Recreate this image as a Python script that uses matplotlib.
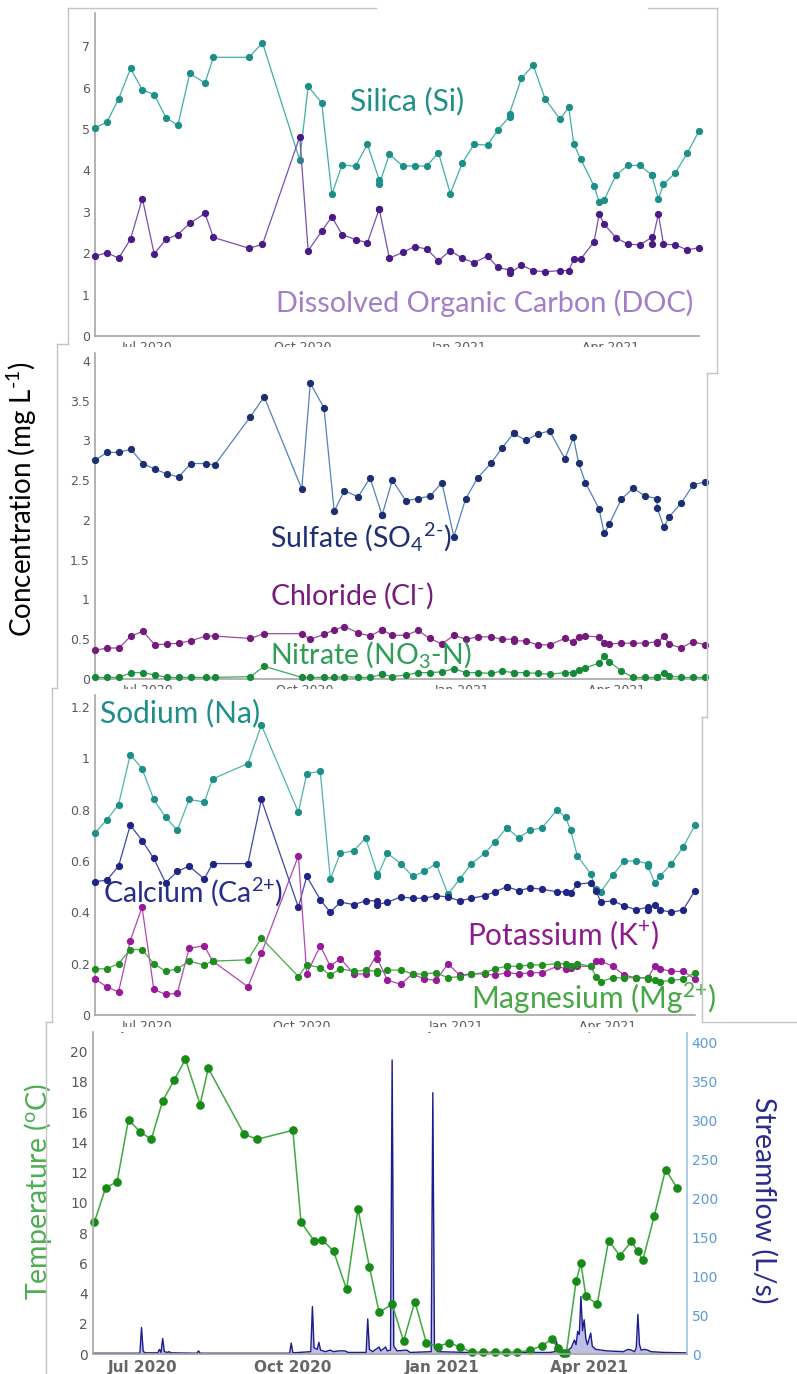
import matplotlib
matplotlib.use('Agg')
import matplotlib.pyplot as plt
import matplotlib.dates as mdates
from matplotlib.lines import Line2D
from matplotlib.patches import Rectangle
import pandas as pd

plt.rcParams['mathtext.fontset'] = 'custom'
plt.rcParams['mathtext.rm'] = 'Lato'
plt.rcParams['mathtext.it'] = 'Lato:italic'
plt.rcParams['mathtext.bf'] = 'Lato:bold'

# ---- data ----
chem_dates = ['2020-05-31', '2020-06-07', '2020-06-14', '2020-06-21', '2020-06-28', '2020-07-05',
              '2020-07-12', '2020-07-19', '2020-07-26', '2020-08-04', '2020-08-09', '2020-08-30',
              '2020-09-07', '2020-09-29', '2020-10-04', '2020-10-12', '2020-10-18', '2020-10-24',
              '2020-11-01', '2020-11-08', '2020-11-15', '2020-11-15', '2020-11-21', '2020-11-29',
              '2020-12-06', '2020-12-13', '2020-12-20', '2020-12-27', '2021-01-03', '2021-01-10',
              '2021-01-18', '2021-01-24', '2021-01-31', '2021-01-31', '2021-02-07', '2021-02-14',
              '2021-02-21', '2021-03-02', '2021-03-07', '2021-03-10', '2021-03-14', '2021-03-22',
              '2021-03-25', '2021-03-28', '2021-04-04', '2021-04-11', '2021-04-18', '2021-04-25',
              '2021-04-25', '2021-04-29', '2021-05-02', '2021-05-09', '2021-05-16', '2021-05-23']

silica = [5.03, 5.16, 5.73, 6.46, 5.94, 5.83, 5.27, 5.09, 6.34, 6.11, 6.73, 6.73, 7.08, 4.25,
          6.03, 5.63, 3.42, 4.13, 4.10, 4.63, 3.77, 3.66, 4.39, 4.10, 4.11, 4.10, 4.43, 3.44,
          4.17, 4.63, 4.61, 4.97, 5.30, 5.37, 6.22, 6.54, 5.73, 5.23, 5.53, 4.63, 4.28, 3.62,
          3.24, 3.29, 3.89, 4.12, 4.12, 3.89, 3.89, 3.31, 3.66, 3.94, 4.41, 4.95]
doc = [1.93, 2.01, 1.88, 2.34, 3.32, 1.98, 2.34, 2.45, 2.72, 2.96, 2.38, 2.12, 2.21, 4.81,
       2.06, 2.53, 2.88, 2.45, 2.33, 2.25, 3.07, 3.07, 1.88, 2.02, 2.16, 2.10, 1.82, 2.06,
       1.88, 1.77, 1.93, 1.66, 1.59, 1.51, 1.71, 1.58, 1.55, 1.58, 1.58, 1.85, 1.85, 2.28,
       2.94, 2.70, 2.37, 2.22, 2.20, 2.38, 2.22, 2.94, 2.22, 2.20, 2.08, 2.13]

sulfate = [2.75, 2.85, 2.85, 2.89, 2.71, 2.64, 2.58, 2.54, 2.71, 2.71, 2.69, 3.30, 3.55, 2.39,
           3.72, 3.41, 2.11, 2.37, 2.29, 2.53, 2.06, 2.06, 2.50, 2.24, 2.27, 2.30, 2.47, 1.79,
           2.27, 2.53, 2.72, 2.90, 3.09, 3.09, 3.00, 3.08, 3.12, 2.77, 3.04, 2.72, 2.47, 2.14,
           1.83, 1.95, 2.26, 2.40, 2.30, 2.27, 2.15, 1.91, 2.04, 2.21, 2.44, 2.48]
chloride = [0.36, 0.39, 0.39, 0.54, 0.60, 0.43, 0.44, 0.45, 0.48, 0.54, 0.54, 0.51, 0.57, 0.57,
            0.50, 0.56, 0.62, 0.66, 0.58, 0.54, 0.62, 0.62, 0.55, 0.55, 0.61, 0.51, 0.44, 0.55,
            0.50, 0.53, 0.53, 0.50, 0.50, 0.48, 0.48, 0.43, 0.43, 0.51, 0.47, 0.53, 0.54, 0.53,
            0.45, 0.44, 0.45, 0.45, 0.45, 0.47, 0.45, 0.54, 0.44, 0.39, 0.47, 0.43]
nitrate = [0.02, 0.02, 0.02, 0.08, 0.08, 0.05, 0.02, 0.02, 0.02, 0.02, 0.02, 0.03, 0.16, 0.02,
           0.02, 0.02, 0.02, 0.03, 0.02, 0.02, 0.06, 0.06, 0.03, 0.05, 0.08, 0.08, 0.09, 0.13,
           0.08, 0.08, 0.07, 0.10, 0.08, 0.08, 0.08, 0.07, 0.06, 0.08, 0.08, 0.11, 0.14, 0.20,
           0.29, 0.22, 0.10, 0.02, 0.02, 0.02, 0.02, 0.08, 0.04, 0.02, 0.02, 0.02]

sodium = [0.71, 0.76, 0.82, 1.015, 0.96, 0.84, 0.77, 0.72, 0.84, 0.83, 0.92, 0.98, 1.13, 0.79,
          0.94, 0.95, 0.53, 0.63, 0.64, 0.69, 0.55, 0.54, 0.63, 0.59, 0.54, 0.56, 0.59, 0.47,
          0.53, 0.59, 0.63, 0.675, 0.73, 0.73, 0.69, 0.72, 0.73, 0.80, 0.77, 0.72, 0.62, 0.55,
          0.49, 0.48, 0.545, 0.60, 0.60, 0.59, 0.58, 0.515, 0.54, 0.59, 0.655, 0.74]
calcium = [0.52, 0.525, 0.58, 0.74, 0.68, 0.61, 0.515, 0.56, 0.58, 0.53, 0.59, 0.59, 0.84, 0.42,
           0.54, 0.45, 0.40, 0.44, 0.43, 0.445, 0.445, 0.43, 0.44, 0.46, 0.455, 0.455, 0.465, 0.46,
           0.445, 0.455, 0.465, 0.48, 0.50, 0.50, 0.485, 0.495, 0.49, 0.48, 0.48, 0.475, 0.51, 0.515,
           0.485, 0.44, 0.445, 0.425, 0.41, 0.42, 0.41, 0.43, 0.41, 0.40, 0.41, 0.485]
potassium = [0.14, 0.11, 0.09, 0.29, 0.42, 0.10, 0.08, 0.085, 0.26, 0.27, 0.21, 0.11, 0.24, 0.62,
             0.16, 0.27, 0.19, 0.22, 0.16, 0.16, 0.24, 0.22, 0.135, 0.12, 0.16, 0.14, 0.135, 0.20,
             0.155, 0.16, 0.16, 0.155, 0.165, 0.165, 0.16, 0.165, 0.165, 0.19, 0.18, 0.185, 0.19, 0.19,
             0.21, 0.21, 0.19, 0.155, 0.145, 0.145, 0.145, 0.19, 0.18, 0.17, 0.17, 0.14]
magnesium = [0.18, 0.18, 0.20, 0.255, 0.255, 0.20, 0.17, 0.18, 0.21, 0.195, 0.21, 0.215, 0.30, 0.15,
             0.195, 0.185, 0.155, 0.18, 0.17, 0.175, 0.17, 0.165, 0.175, 0.175, 0.16, 0.16, 0.165, 0.145,
             0.15, 0.16, 0.165, 0.18, 0.19, 0.19, 0.19, 0.195, 0.195, 0.20, 0.20, 0.19, 0.20, 0.19,
             0.15, 0.13, 0.145, 0.145, 0.145, 0.145, 0.14, 0.135, 0.13, 0.135, 0.14, 0.165]

temp_dates = ['2020-06-01', '2020-06-08', '2020-06-15', '2020-06-22', '2020-06-29', '2020-07-06',
              '2020-07-13', '2020-07-20', '2020-07-27', '2020-08-05', '2020-08-10', '2020-09-01',
              '2020-09-09', '2020-10-01', '2020-10-06', '2020-10-14', '2020-10-19', '2020-10-26',
              '2020-11-03', '2020-11-10', '2020-11-17', '2020-11-23', '2020-12-01', '2020-12-08',
              '2020-12-15', '2020-12-22', '2020-12-29', '2021-01-05', '2021-01-12', '2021-01-19',
              '2021-01-26', '2021-02-02', '2021-02-09', '2021-02-16', '2021-02-24', '2021-03-03',
              '2021-03-09', '2021-03-13', '2021-03-16', '2021-03-18', '2021-03-24', '2021-03-27',
              '2021-03-30', '2021-04-06', '2021-04-13', '2021-04-20', '2021-04-27', '2021-05-01',
              '2021-05-04', '2021-05-11', '2021-05-18', '2021-05-25']
temperature = [8.72, 11.0, 11.4, 15.5, 14.7, 14.2, 16.75, 18.1, 19.5, 16.5, 18.9, 14.55,
               14.2, 14.8, 8.72, 7.5, 7.57, 6.8, 4.28, 9.6, 5.78, 2.76, 3.29, 0.86,
               3.47, 0.75, 0.49, 0.75, 0.45, 0.11, 0.11, 0.11, 0.11, 0.11, 0.26, 0.55,
               0.97, 0.37, 0.04, 0.04, 4.8, 6.0, 3.84, 3.29, 7.5, 6.5, 7.45, 6.8,
               6.2, 9.1, 12.2, 11.0]

flow_dates = ['2020-05-31', '2020-06-29', '2020-06-30', '2020-07-01', '2020-07-02', '2020-07-10',
              '2020-07-11', '2020-07-12', '2020-07-13', '2020-07-14', '2020-07-16', '2020-07-17',
              '2020-07-18', '2020-08-03', '2020-08-04', '2020-08-05', '2020-09-29', '2020-09-30',
              '2020-10-01', '2020-10-12', '2020-10-13', '2020-10-14', '2020-10-16', '2020-10-17',
              '2020-10-18', '2020-10-21', '2020-10-24', '2020-10-26', '2020-10-29', '2020-11-02',
              '2020-11-04', '2020-11-15', '2020-11-16', '2020-11-17', '2020-11-19', '2020-11-23',
              '2020-11-24', '2020-11-27', '2020-11-28', '2020-11-30', '2020-12-01', '2020-12-02',
              '2020-12-04', '2020-12-10', '2020-12-12', '2020-12-25', '2020-12-26', '2020-12-27',
              '2020-12-29', '2021-01-17', '2021-02-16', '2021-03-08', '2021-03-11', '2021-03-12',
              '2021-03-13', '2021-03-18', '2021-03-21', '2021-03-23', '2021-03-24', '2021-03-25',
              '2021-03-26', '2021-03-27', '2021-03-28', '2021-03-29', '2021-03-30', '2021-03-31',
              '2021-04-02', '2021-04-03', '2021-04-05', '2021-04-12', '2021-04-22', '2021-04-25',
              '2021-04-27', '2021-04-29', '2021-04-30', '2021-05-01', '2021-05-02', '2021-05-03',
              '2021-05-05', '2021-05-07', '2021-05-09', '2021-05-17', '2021-05-31']
streamflow = [1.0, 1.0, 34, 4, 1.5, 1.5,
              6, 2, 20, 3, 2, 3,
              1.5, 1, 4, 1, 1, 14,
              1.5, 3, 61, 8, 6, 15,
              5, 3, 5, 3, 4, 4,
              2, 2, 45, 6, 3, 9,
              4, 9, 4, 5, 378, 10,
              4, 5, 2, 3, 336, 8,
              3, 2, 2, 2, 3, 16,
              4, 3, 8, 18, 12, 29,
              25, 74, 30, 44, 20, 12,
              27, 10, 6, 4, 3, 6,
              5, 3, 8, 51, 12, 5,
              6, 5, 3, 2, 1.5]

tick_months = [1, 4, 7, 10]

# ---- layout helpers (pixel coordinates of the 797x1374 picture) ----
W, H = 797, 1374
fig = plt.figure(figsize=(W / 100, H / 100), dpi=100)
LABEL_FONT = ['Lato', 'DejaVu Sans']
TICK_GRAY = '#595959'
SPINE_GRAY = '#A6A6A6'


def fx(x):
    return x / W


def fy(y):
    return 1 - y / H


def panel(x0, y0, x1, y1):
    return fig.add_axes([fx(x0), fy(y1), (x1 - x0) / W, (y1 - y0) / H])


def style(ax, top, step, fmt):
    ax.set_ylim(0, top)
    ax.set_yticks([i * step for i in range(int(top / step + 1e-6) + 1)])
    ax.yaxis.set_major_formatter(plt.FuncFormatter(fmt))
    for s in ['top', 'right']:
        ax.spines[s].set_visible(False)
    for s in ['left', 'bottom']:
        ax.spines[s].set_color(SPINE_GRAY)
        ax.spines[s].set_linewidth(1.2)
    ax.tick_params(length=0, labelsize=9, labelcolor=TICK_GRAY, pad=3.6)
    ax.xaxis.set_major_locator(mdates.MonthLocator(bymonth=tick_months))
    ax.xaxis.set_major_formatter(mdates.DateFormatter('%b %Y'))


def num(v, pos):
    return ('%g' % round(v, 2))


def series(ax, dates, vals, line_c, mark_c, ms=4.2, lw=0.9):
    ax.plot(pd.to_datetime(dates), vals, '-o', color=line_c, lw=lw, ms=ms,
            mfc=mark_c, mec=mark_c, clip_on=False, zorder=3)


def label(x, y, s, color, size, **kw):
    fig.text(fx(x), fy(y), s, color=color, fontsize=size, family=LABEL_FONT, **kw)


chem_xlim = (pd.Timestamp('2020-05-31'), pd.Timestamp('2021-05-23'))

# ---- panel 1: silica / DOC ----
ax1 = panel(95, 13, 699, 336)
series(ax1, chem_dates, silica, '#3FAFA6', '#1E8F88')
series(ax1, chem_dates, doc, '#7A4FB0', '#4A1A86')
ax1.set_xlim(chem_xlim)
style(ax1, 7.8, 1, num)
label(350, 110, 'Silica (Si)', '#1F8F89', 21.5, va='baseline')
label(276, 312, 'Dissolved Organic Carbon (DOC)', '#A47DC8', 20.8, va='baseline')

# ---- panel 2: sulfate / chloride / nitrate ----
ax2 = panel(95, 353, 705, 679)
series(ax2, chem_dates, sulfate, '#5580BA', '#1B2F72')
series(ax2, chem_dates, chloride, '#9A4FA0', '#741A7C')
series(ax2, chem_dates, nitrate, '#3FA65E', '#168A3A')
ax2.set_xlim(chem_xlim)
style(ax2, 4.1, 0.5, num)
label(270, 547, 'Sulfate (SO$\\mathregular{_4}$$\\mathregular{^{\\text{2-}}}$)', '#1F3172', 20.5,
      va='baseline')
label(270, 605, 'Chloride (Cl$\\mathregular{^{\\text{-}}}$)', '#7A1A7E', 20.5, va='baseline')
label(270, 663, 'Nitrate (NO$\\mathregular{_3}$-N)', '#2E9E55', 20.5, va='baseline')
label(22, 499, 'Concentration (mg L$\\mathregular{^{\\text{-1}}}$)', 'black', 20,
      rotation=90, ha='center', va='center')

# ---- panel 3: cations ----
ax3 = panel(95, 695, 695, 1015)
series(ax3, chem_dates, sodium, '#4DB5AD', '#1E8F88')
series(ax3, chem_dates, calcium, '#4048A6', '#1E2585')
series(ax3, chem_dates, potassium, '#B347B3', '#981A98')
series(ax3, chem_dates, magnesium, '#45AA45', '#1E8E1E')
ax3.set_xlim(chem_xlim)
style(ax3, 1.247, 0.2, num)
label(100, 722, 'Sodium (Na)', '#1E8E88', 21.5, va='baseline')
label(103, 902, 'Calcium (Ca$\\mathregular{^{\\text{2+}}}$)', '#262D8A', 20.5, va='baseline')
label(467, 945, 'Potassium (K$\\mathregular{^{\\text{+}}}$)', '#8E1A8E', 21.5, va='baseline')
label(471, 1009, 'Magnesium (Mg$\\mathregular{^{\\text{2+}}}$)', '#45A845', 21.5, va='baseline')

# ---- panel 4: temperature and streamflow ----
ax4 = panel(92.7, 1032, 686.7, 1354)
ax4r = ax4.twinx()
fd = pd.to_datetime(flow_dates)
ax4r.fill_between(fd, 0, streamflow, color='#8C8CD2', alpha=0.55, lw=0)
ax4r.plot(fd, streamflow, color='#1C1C90', lw=1.0)
ax4r.set_ylim(0, 414)
ax4r.set_yticks(range(0, 401, 50))
for s in ['top', 'left', 'bottom']:
    ax4r.spines[s].set_visible(False)
ax4r.spines['right'].set_color('#9DC3E6')
ax4r.spines['right'].set_linewidth(1.2)
ax4r.tick_params(length=0, labelsize=10, labelcolor='#5B9BD5', pad=3.6)

ax4.set_zorder(ax4r.get_zorder() + 1)
ax4.patch.set_visible(False)
ax4.plot(pd.to_datetime(temp_dates), temperature, '-o', color='#3FA83F', lw=1.1, ms=5.2,
         mfc='#178A17', mec='#178A17', clip_on=False)
ax4.set_xlim(pd.Timestamp('2020-05-31'), pd.Timestamp('2021-05-31'))
ax4r.set_xlim(ax4.get_xlim())
style(ax4, 21.3, 2, num)
ax4.tick_params(axis='y', labelsize=10)
ax4.tick_params(axis='x', labelsize=11, pad=4.3)
for t in ax4.get_xticklabels():
    t.set_fontweight('bold')
    t.set_color('#666666')
label(38, 1191, 'Temperature ($\\mathregular{^{o}}$C)', '#4CAF50', 20.5,
      rotation=90, ha='center', va='center')
label(764, 1200, 'Streamflow (L/s)', '#2B2B8C', 20.5,
      rotation=270, ha='center', va='center')

# ---- cut-off date labels of the pasted upper panels ----
for y0, y1 in [(347, 352.5), (688.5, 694.5), (1027, 1031.5)]:
    fig.patches.append(Rectangle((fx(96), fy(y1)), (708 - 96) / W, (y1 - y0) / H,
                                 transform=fig.transFigure, facecolor='white',
                                 edgecolor='none', zorder=5))

# ---- thin gray frames around the pasted screenshots ----
frames = [
    [(68, 8), (376, 8)], [(648, 8), (717, 8)], [(68, 8), (68, 344)], [(717, 8), (717, 373)],
    [(57, 344), (68, 344)], [(57, 344), (57, 688)], [(707, 373), (717, 373)], [(707, 373), (707, 717)],
    [(52, 688), (57, 688)], [(52, 688), (52, 1022)], [(702, 717), (707, 717)], [(702, 717), (702, 1022)],
    [(46, 1022), (52, 1022)], [(46, 1022), (46, 1374)], [(702, 1022), (797, 1022)],
]
for (xa, ya), (xb, yb) in frames:
    fig.add_artist(Line2D([fx(xa), fx(xb)], [fy(ya), fy(yb)], transform=fig.transFigure,
                          color='#C4C4C4', lw=1.0, zorder=6))

fig.savefig('out.png', dpi=100)
